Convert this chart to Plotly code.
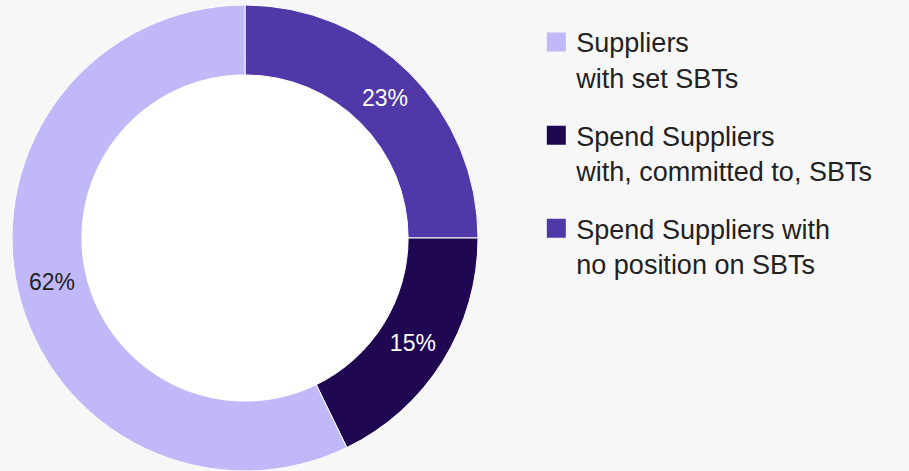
import plotly.graph_objects as go

# data (clockwise from 12 o'clock)
slice_names = ["Spend Suppliers with no position on SBTs",
               "Spend Suppliers with, committed to, SBTs",
               "Suppliers with set SBTs"]
slice_values = [25.0, 17.8, 57.2]          # drawn arc sizes
slice_labels = ["23%", "15%", "62%"]       # printed labels
slice_colors = ["#5038a8", "#200752", "#c0b8f8"]
label_colors = ["#ffffff", "#ffffff", "#222222"]

legend_names = ["Suppliers<br>with set SBTs",
                "Spend Suppliers<br>with, committed to, SBTs",
                "Spend Suppliers with<br>no position on SBTs"]
legend_colors = ["#c0b8f8", "#200752", "#5038a8"]

FONT = "Liberation Sans, Arial, Helvetica, sans-serif"
W, H = 909, 471
fig = go.Figure()

fig.add_trace(go.Pie(
    labels=slice_names, values=slice_values, text=slice_labels,
    textinfo="text", textposition="inside", insidetextorientation="horizontal",
    textfont=dict(family=FONT, size=23, color=label_colors),
    marker=dict(colors=slice_colors, line=dict(color="#ffffff", width=1)),
    sort=False, direction="clockwise", rotation=0, hole=0.70,
    domain=dict(x=[12 / W, 478 / W], y=[0, 466 / H]),
    showlegend=False, hoverinfo="label+text",
))

for i, (n, c) in enumerate(zip(legend_names, legend_colors)):
    fig.add_trace(go.Scatter(
        x=[None], y=[None], mode="markers", name=n, legendgroup=f"g{i}",
        marker=dict(symbol="square", size=16, color=c, line=dict(color=c, width=3)),
    ))

fig.add_shape(type="circle", xref="paper", yref="paper", layer="below",
              x0=82 / W, x1=408 / W, y0=(H - 401) / H, y1=(H - 75) / H,
              fillcolor="#ffffff", line=dict(width=0))

fig.update_layout(
    width=W, height=H, margin=dict(l=0, r=0, t=0, b=0),
    paper_bgcolor="#f7f7f7", plot_bgcolor="#f7f7f7",
    xaxis=dict(visible=False), yaxis=dict(visible=False),
    legend=dict(x=0.59, y=0.962, xanchor="left", yanchor="top",
                valign="top", tracegroupgap=20, bgcolor="rgba(0,0,0,0)",
                font=dict(family=FONT, size=27, color="#222222")),
    font=dict(family=FONT),
)

post = (
    "document.body.style.margin='0';"
    "document.body.style.background='#f7f7f7';"
)
fig.write_html("out.html", config={"displayModeBar": False}, post_script=post)
